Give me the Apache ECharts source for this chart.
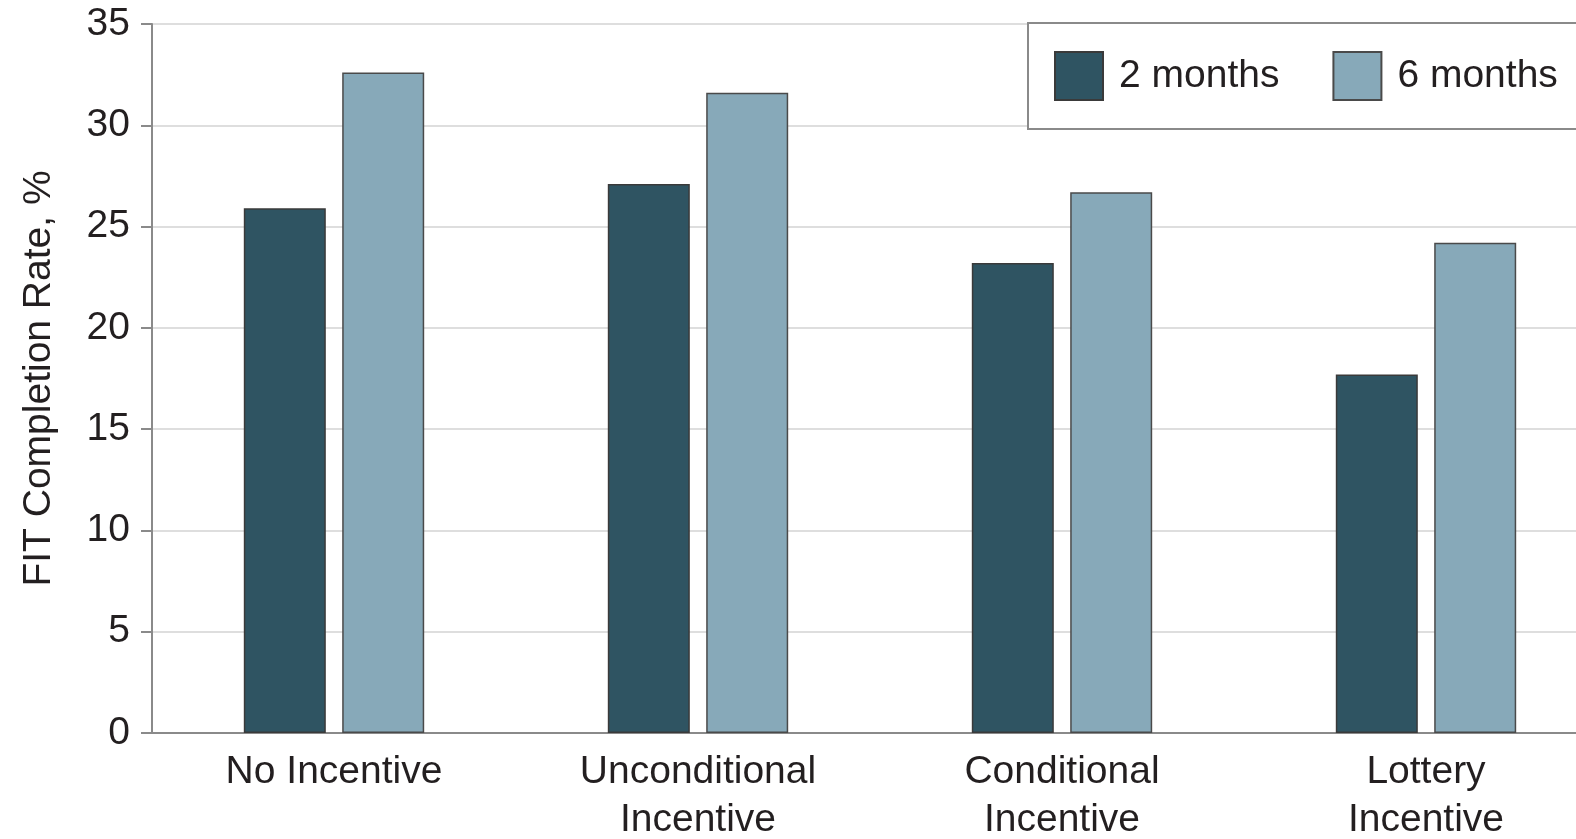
<!DOCTYPE html>
<html><head><meta charset="utf-8">
<script src="https://cdn.jsdelivr.net/npm/echarts@6/dist/echarts.min.js"></script>
<style>html,body{margin:0;padding:0;background:#fff}#c{width:1576px;height:839px}</style>
</head><body><div id="c"></div>
<script>
const categories = ['No Incentive', 'Unconditional\nIncentive', 'Conditional\nIncentive', 'Lottery\nIncentive'];
const seriesNames = ['2 months', '6 months'];
const values2m = [25.9, 27.1, 23.2, 17.7];
const values6m = [32.6, 31.6, 26.7, 24.2];
const yTicks = {min: 0, max: 35, interval: 5};

const FONT = '"Liberation Sans", Arial, sans-serif';
const chart = echarts.init(document.getElementById('c'));
chart.setOption({
  animation: false,
  textStyle: {fontFamily: FONT, color: '#231f20'},
  grid: {left: 152, right: -32, top: 24, bottom: 106, containLabel: false, outerBoundsMode: 'none'},
  legend: {
    data: seriesNames,
    left: 1028, top: 23,
    width: 700,
    orient: 'horizontal',
    itemWidth: 48, itemHeight: 48,
    itemGap: 53,
    padding: [28, 60, 28, 26],
    borderColor: '#8a8a8a', borderWidth: 2,
    backgroundColor: '#fff',
    icon: 'rect',
    textStyle: {fontFamily: FONT, fontSize: 39, color: '#231f20', padding: [0, 0, 0, 11]}
  },
  xAxis: {
    type: 'category',
    data: categories,
    axisLine: {lineStyle: {color: '#8a8a8a', width: 2}},
    axisTick: {show: false},
    axisLabel: {fontFamily: FONT, fontSize: 39, color: '#231f20', margin: 15, lineHeight: 48, interval: 0}
  },
  yAxis: {
    type: 'value',
    min: yTicks.min, max: yTicks.max, interval: yTicks.interval,
    name: 'FIT Completion Rate, %',
    nameLocation: 'middle',
    nameGap: 93,
    nameTextStyle: {fontFamily: FONT, fontSize: 39, color: '#231f20'},
    axisLine: {show: true, lineStyle: {color: '#8a8a8a', width: 2}},
    axisTick: {show: true, length: 11, lineStyle: {color: '#8a8a8a', width: 2}},
    axisLabel: {fontFamily: FONT, fontSize: 39, color: '#231f20', margin: 22},
    splitLine: {lineStyle: {color: '#dedede', width: 2}}
  },
  series: [
    {name: seriesNames[0], type: 'bar', data: values2m, barWidth: 82, barGap: '20%',
     itemStyle: {color: '#2f5462', borderColor: '#3a3a3a', borderWidth: 1.5}},
    {name: seriesNames[1], type: 'bar', data: values6m, barWidth: 82, barGap: '20%',
     itemStyle: {color: '#87a9b9', borderColor: '#4a4a4a', borderWidth: 1.5}}
  ]
});
</script></body></html>
